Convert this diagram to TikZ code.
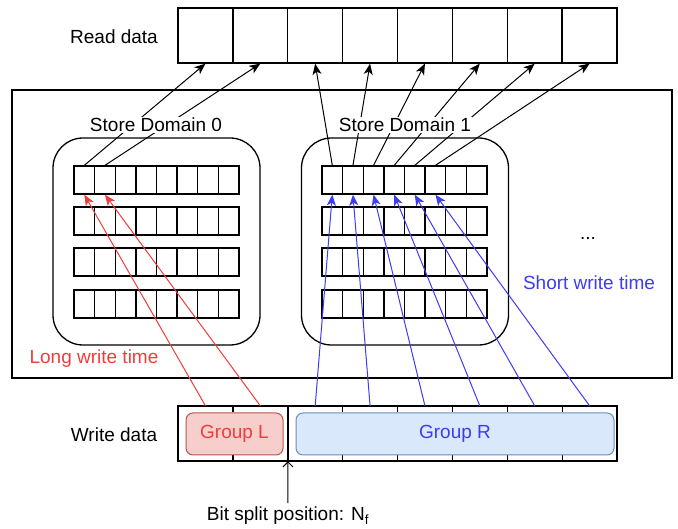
\documentclass[tikz,border=0pt]{standalone}
\usepackage{fontspec}
\setmainfont{Liberation Sans}
\usepackage{tikz}
\usetikzlibrary{calc,shapes,arrows.meta}
\definecolor{longred}{HTML}{F03C3C}
\definecolor{shortblue}{HTML}{3C3CF0}
\definecolor{grpLfill}{HTML}{F8CECC}
\definecolor{grpLline}{HTML}{B85450}
\definecolor{grpRfill}{HTML}{DAE8FC}
\definecolor{grpRline}{HTML}{6C8EBF}
\tikzstyle{every picture}=[>={Stealth[length=11pt,width=9pt,inset=3pt]}]
\tikzstyle{txt}=[font=\fontsize{19}{22}\selectfont]
\tikzstyle{bigcell}=[rectangle,draw,line width=1.3pt,minimum width=54.875pt,minimum height=55pt,inner sep=0pt]
\tikzstyle{cell}=[rectangle,draw,line width=1.3pt,minimum width=20.625pt,minimum height=28pt,inner sep=0pt]
\tikzstyle{dombox}=[rectangle,draw,line width=1.3pt,rounded corners=30pt,minimum width=207pt,minimum height=207pt]
\tikzstyle{grp}=[rectangle,draw,line width=1pt,rounded corners=7pt,minimum height=42pt,txt]

\begin{document}
\begin{tikzpicture}[x=1pt,y=-1pt]
    \useasboundingbox (0,0) rectangle (678,529);

    % Read data row
    \node[txt] (readlbl) at (114,37) {Read data};
    \foreach \i in {1,...,8}
        \node[bigcell] (r\i) at ({178+54.875*(\i-0.5)},35.5) {};

    % Memory with its store domains
    \node[draw,line width=1.3pt,minimum width=660pt,minimum height=288pt] (mem) at (342,234) {};
    \node[dombox] (d0) at (156.5,241.5) {};
    \node[dombox] (d1) at (405,241.5) {};

    % Cells of the two domains
    \foreach \row/\y in {1/180,2/221,3/262,4/304}
        \foreach \j in {1,...,8} {
            \node[cell] (a\row\j) at ({74+20.625*(\j-0.5)},\y) {};
            \node[cell] (b\row\j) at ({322+20.625*(\j-0.5)},\y) {};
        }

    % Write data row
    \node[draw,line width=1.3pt,minimum width=439pt,minimum height=55pt,inner sep=0pt] (wd) at (397.5,433.5) {};
    \foreach \i in {1,...,8}
        \node[minimum width=54.875pt,minimum height=55pt,inner sep=0pt] (w\i) at ({178+54.875*(\i-0.5)},433.5) {};
    \foreach \i in {1,3,4,5,6,7} {
        \draw[line width=1.3pt] (w\i.north east) -- ++(0,6);
        \draw[line width=1.3pt] (w\i.south east) -- ++(0,-6);
    }
    \draw[line width=1.3pt] (w2.north east) -- (w2.south east);

    \node[grp,fill=grpLfill,draw=grpLline,text=longred,minimum width=97pt] (gl) at (234.5,434) {Group L};
    \node[grp,fill=grpRfill,draw=grpRline,text=shortblue,minimum width=318pt] (gr) at (455,434) {Group R};

    % Reads: domains -> read data
    \draw[->,line width=1pt] (a11.north) -- (r1.south);
    \draw[->,line width=1pt] (a12.north) -- (r2.south);
    \foreach \j/\k in {1/3,2/4,3/5,4/6,5/7,6/8}
        \draw[->,line width=1pt] (b1\j.north) -- (r\k.south);

    % Writes: write data -> domains
    \draw[->,longred,line width=1pt] (w1.north) -- (a11.south);
    \draw[->,longred,line width=1pt] (w2.north) -- (a12.south);
    \foreach \k/\j in {3/1,4/2,5/3,6/4,7/5,8/6}
        \draw[->,shortblue,line width=1pt] (w\k.north) -- (b1\j.south);

    % Labels
    \node[txt,fill=white,inner sep=1pt] (sd0) at (156,125) {Store Domain 0};
    \node[txt,fill=white,inner sep=1pt] (sd1) at (405,125) {Store Domain 1};
    \node[txt] (dots) at (588,238) {...};
    \node[txt,text=shortblue] (short) at (589,283) {Short write time};
    \node[txt,text=longred] (long) at (94,359) {Long write time};
    \node[txt] (writelbl) at (114,435) {Write data};

    % Split position
    \coordinate (splitfoot) at (287.75,503);
    \draw[-{Straight Barb[length=5pt,width=10pt]},line width=1pt] (splitfoot) -- (w2.south east);
    \node[txt] (splitlbl) at (288,516) {Bit split position: N\textsubscript{f}};

\end{tikzpicture}
\end{document}
